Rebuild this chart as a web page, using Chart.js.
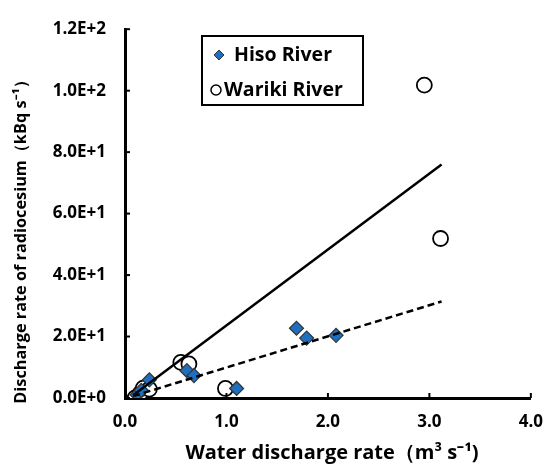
<!DOCTYPE html>
<html lang="en">
<head>
	<meta charset="utf-8">
	<title></title>
	<style>
html, body {
	margin: 0;
	padding: 0;
	background: #fff;
}
#chartWrapper {
	width: 557px;
	height: 472px;
}
	</style>
</head>
<body>

<div id="chartWrapper">
  <canvas id="myChart"></canvas>
</div>

<script src="https://cdn.jsdelivr.net/npm/chart.js"></script>
<script>
// values
const hisoX = [0.12, 0.16, 0.24, 0.61, 0.68, 1.10, 1.69, 1.79, 2.08];
const hisoY = [1.0, 2.5, 5.9, 8.9, 7.3, 3.1, 22.7, 19.5, 20.4];
const warikiX = [0.10, 0.15, 0.18, 0.24, 0.55, 0.63, 0.99, 2.95, 3.11];
const warikiY = [0.0, 1.5, 3.2, 2.9, 11.6, 11.1, 3.1, 101.8, 51.9];
// regression lines, end points
const hisoFitX = [0.08, 3.12];
const hisoFitY = [0.6, 31.4];
const warikiFitX = [0.08, 3.12];
const warikiFitY = [0.9, 76.0];

const seriesNames = ['Hiso River', 'Wariki River'];
const xTitle = 'Water discharge rate（m³ s⁻¹)';
const yTitle = 'Discharge rate of radiocesium（kBq s⁻¹）';

const fontName = '"Open Sans"';

function pts(xs, ys) {
	return xs.map((x, i) => ({x: x, y: ys[i]}));
}

// inner tick marks, axis titles and the boxed legend
const extras = {
	id: 'extras',
	afterDraw(chart) {
		const ctx = chart.ctx;
		const xs = chart.scales.x, ys = chart.scales.y;
		ctx.save();
		ctx.strokeStyle = '#000';
		ctx.lineWidth = 2;
		for (let t of xs.ticks) {
			let px = xs.getPixelForValue(t.value);
			ctx.beginPath();
			ctx.moveTo(px, ys.bottom);
			ctx.lineTo(px, ys.bottom - 5);
			ctx.stroke();
		}
		for (let t of ys.ticks) {
			let py = ys.getPixelForValue(t.value);
			ctx.beginPath();
			ctx.moveTo(xs.left, py);
			ctx.lineTo(xs.left + 5, py);
			ctx.stroke();
		}

		// axis titles
		ctx.fillStyle = '#000';
		ctx.textAlign = 'center';
		ctx.textBaseline = 'middle';
		ctx.font = 'bold 20px ' + fontName;
		ctx.fillText(xTitle, 332, 453);
		ctx.save();
		ctx.translate(21, 238);
		ctx.rotate(-Math.PI / 2);
		ctx.font = 'bold 16.3px ' + fontName;
		ctx.fillText(yTitle, 0, 0);
		ctx.restore();

		// legend box
		ctx.textAlign = 'left';
		ctx.lineWidth = 2;
		ctx.strokeRect(202, 36, 161, 69);
		ctx.font = 'bold 19.5px ' + fontName;
		ctx.fillText(seriesNames[0], 234, 55);
		ctx.fillText(seriesNames[1], 224, 90);
		// diamond marker
		ctx.fillStyle = '#1f6fc0';
		ctx.strokeStyle = '#333';
		ctx.lineWidth = 1;
		ctx.beginPath();
		ctx.moveTo(219, 50);
		ctx.lineTo(224, 55);
		ctx.lineTo(219, 60);
		ctx.lineTo(214, 55);
		ctx.closePath();
		ctx.fill();
		ctx.stroke();
		// circle marker
		ctx.fillStyle = '#fff';
		ctx.strokeStyle = '#000';
		ctx.lineWidth = 1.5;
		ctx.beginPath();
		ctx.arc(216, 90, 5, 0, Math.PI * 2);
		ctx.fill();
		ctx.stroke();
		ctx.restore();
	}
};

const ctx = document.getElementById('myChart');

new Chart(ctx, {
	type: 'scatter',
	data: {
		datasets: [{
			label: seriesNames[0] + ' fit',
			type: 'line',
			data: pts(hisoFitX, hisoFitY),
			borderColor: '#000',
			borderWidth: 2.5,
			borderDash: [7, 4],
			pointRadius: 0,
			fill: false,
			order: 0
		}, {
			label: seriesNames[1] + ' fit',
			type: 'line',
			data: pts(warikiFitX, warikiFitY),
			borderColor: '#000',
			borderWidth: 2.5,
			pointRadius: 0,
			fill: false,
			order: 0
		}, {
			label: seriesNames[1],
			data: pts(warikiX, warikiY),
			pointStyle: 'circle',
			pointRadius: 7.5,
			pointBackgroundColor: '#fff',
			pointBorderColor: '#000',
			pointBorderWidth: 1.8,
			order: 2
		}, {
			label: seriesNames[0],
			data: pts(hisoX, hisoY),
			pointStyle: 'rectRot',
			pointRadius: 7,
			pointBackgroundColor: '#1f6fc0',
			pointBorderColor: '#333',
			pointBorderWidth: 1.2,
			order: 1
		}]
	},
	options: {
		responsive: true,
		maintainAspectRatio: false,
		animation: false,
		layout: {
			padding: {top: 21, right: 20, left: 0, bottom: 0}
		},
		plugins: {
			legend: {display: false},
			tooltip: {enabled: false}
		},
		scales: {
			x: {
				type: 'linear',
				min: 0,
				max: 4,
				ticks: {
					stepSize: 1,
					padding: 14,
					color: '#000',
					font: {family: fontName, size: 17, weight: 'bold'},
					callback: v => v.toFixed(1)
				},
				grid: {display: false, drawTicks: false},
				border: {color: '#000', width: 3},
				afterFit: s => { s.height = 74; }
			},
			y: {
				min: 0,
				max: 120,
				ticks: {
					stepSize: 20,
					padding: 19,
					color: '#000',
					font: {family: fontName, size: 17, weight: 'bold'},
					callback: v => v.toExponential(1).replace('e', 'E')
				},
				grid: {display: false, drawTicks: false},
				border: {color: '#000', width: 3},
				afterFit: s => { s.width = 125; }
			}
		}
	},
	plugins: [extras]
});
</script>
</body>
</html>
